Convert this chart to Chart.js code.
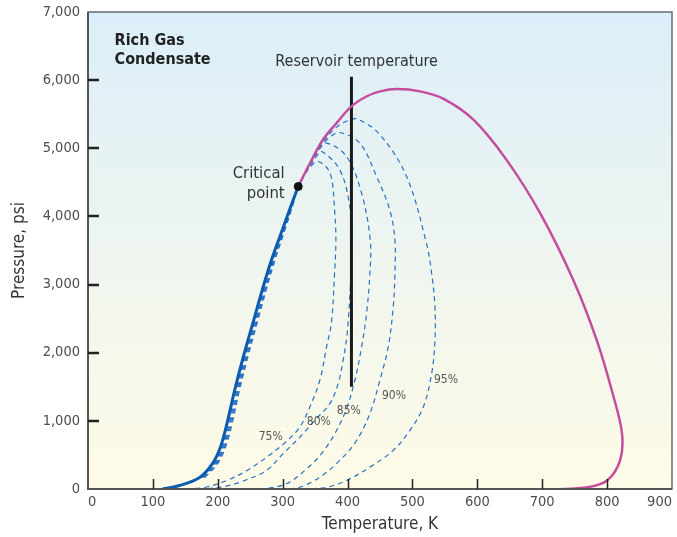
<!DOCTYPE html>
<html>
<head>
<meta charset="utf-8">
<script src="https://cdn.jsdelivr.net/npm/chart.js@4.4.1/dist/chart.umd.min.js"></script>
<style>
  html, body { margin: 0; padding: 0; background: #ffffff; }
  #wrap { width: 677px; height: 537px; }
</style>
</head>
<body>
<div id="wrap"><canvas id="phase" width="677" height="537"></canvas></div>
<script>
// Phase envelope of a rich gas condensate: temperature (K) vs pressure (psi)

// Bubble-point curve (solid blue), from low temperature up to the critical point
const bubbleT = [115, 141, 172, 192, 205, 215.3, 226, 240, 255.4, 268.5, 282.7, 299.4, 313.3, 324];
const bubbleP = [0, 51, 169, 375, 640, 1007, 1449, 1963, 2478, 2919, 3360, 3801, 4169, 4440];

// Dew-point curve (magenta), from the critical point round the cricondentherm to the axis
const dewT = [324, 342, 362, 383, 406, 429, 450, 476, 512, 548, 594, 645, 697, 748, 784, 810, 823, 820, 800, 769, 731];
const dewP = [4440, 4780, 5125, 5370, 5615, 5760, 5835, 5870, 5835, 5725, 5420, 4830, 4045, 3065, 2185, 1350, 810, 420, 125, 25, 0];

// Critical point
const criticalT = [324];
const criticalP = [4440];

// Reservoir temperature line
const reservoirT = [406, 406];
const reservoirP = [1500, 6050];

// Quality lines (dashed): up beside the bubble curve, over the top, down the right side
const q75T = [174, 194, 207, 217.3, 228, 242, 256.9, 270, 284.2, 300.4, 313.8, 324, 342, 355, 373, 380, 382, 380, 375, 367.6, 357.3, 341.8, 326.4, 306, 277, 245, 214, 183, 157];
const q75P = [169, 375, 640, 1007, 1449, 1963, 2478, 2919, 3360, 3801, 4169, 4440, 4720, 4806, 4635, 4096, 3654, 3165, 2429, 2085, 1596, 1203, 909, 701, 478, 272, 125, 29, 0];

const q80T = [175.5, 195.5, 208.5, 218.8, 229.5, 243, 258.4, 271, 285.2, 301.4, 314.3, 324, 342, 352, 360, 388, 403.5, 405.5, 405, 399.4, 393.2, 385.5, 372.7, 349.5, 326.4, 300.6, 275, 241.5, 210.6, 180];
const q80P = [169, 375, 640, 1007, 1449, 1963, 2478, 2919, 3360, 3801, 4169, 4440, 4740, 4880, 4953, 4684, 4144, 3654, 3115, 2282, 1890, 1547, 1253, 1007, 762, 518, 272, 125, 37, 0];

const q85T = [177, 197, 210, 220.3, 231, 244.5, 259.4, 272.5, 286.2, 302.4, 314.8, 324, 342, 355, 368, 398.5, 421.6, 435, 434.4, 429.3, 421.6, 411.3, 397.4, 380.4, 359.8, 334.1, 305.9, 272];
const q85P = [169, 375, 640, 1007, 1449, 1963, 2478, 2919, 3360, 3801, 4169, 4440, 4750, 4970, 5076, 4879, 4341, 3654, 3165, 2576, 2085, 1596, 1154, 812, 518, 272, 76, 0];

const q90T = [178.5, 198.5, 211.5, 221.8, 232, 246, 260.9, 273.5, 287.2, 302.9, 315.3, 324, 342, 362, 375, 388, 418.8, 444.8, 465, 473, 473, 470.4, 462.7, 449.8, 434.4, 413.9, 388, 357.3, 326.4, 300];
const q90P = [169, 375, 640, 1007, 1449, 1963, 2478, 2919, 3360, 3801, 4169, 4440, 4760, 5060, 5180, 5232, 5076, 4585, 4096, 3654, 3165, 2674, 2085, 1596, 1106, 713, 419, 174, 27, 0];

const q95T = [180, 200, 213, 223.3, 233.5, 247, 261.9, 274.5, 288.2, 303.4, 315.8, 324, 342, 362, 383, 400, 415, 450, 491, 521, 529.6, 534.7, 534.7, 529.6, 516.7, 496.1, 470.4, 434.4, 398.5, 367.6, 340];
const q95P = [169, 375, 640, 1007, 1449, 1963, 2478, 2919, 3360, 3801, 4169, 4440, 4770, 5090, 5310, 5405, 5430, 5199, 4585, 3630, 3165, 2674, 2184, 1694, 1203, 860, 566, 321, 125, 26, 0];

// Quality labels and where they sit (T, P)
const qualityLabels = ['75%', '80%', '85%', '90%', '95%'];
const qualityLabelT = [281.6, 355.7, 402, 471.5, 551.7];
const qualityLabelP = [772, 985, 1140, 1360, 1600];

// Axis ticks
const xTicks = [0, 100, 200, 300, 400, 500, 600, 700, 800, 900];
const yTicks = [0, 1000, 2000, 3000, 4000, 5000, 6000, 7000];

const FONT = "'DejaVu Sans Condensed', 'Liberation Sans Narrow', sans-serif";

function pts(xs, ys) { return xs.map((x, i) => ({ x: x, y: ys[i] })); }

const QUALITY_BLUE = '#2a70c2';
function qualityLine(xs, ys) {
  return {
    data: pts(xs, ys), showLine: true, borderColor: QUALITY_BLUE, borderWidth: 1.2,
    borderDash: [5, 4], pointRadius: 0, tension: 0.35, fill: false
  };
}

// Background gradient inside the plot area
const bgPlugin = {
  id: 'plotBackground',
  beforeDatasetsDraw(chart) {
    const { ctx, chartArea: a } = chart;
    const g = ctx.createLinearGradient(0, a.top, 0, a.bottom);
    g.addColorStop(0, '#dbeef9');
    g.addColorStop(0.5, '#eef5ef');
    g.addColorStop(1, '#fefbe6');
    ctx.save();
    ctx.fillStyle = g;
    ctx.fillRect(a.left, a.top, a.right - a.left, a.bottom - a.top);
    ctx.restore();
  }
};

// Frame, inside tick marks and text annotations
const decorPlugin = {
  id: 'decor',
  afterDatasetsDraw(chart) {
    const { ctx, chartArea: a, scales } = chart;
    const xs = scales.x, ys = scales.y;
    ctx.save();
    // frame
    ctx.strokeStyle = '#6a6a6a';
    ctx.lineWidth = 1.5;
    ctx.strokeRect(a.left, a.top, a.right - a.left, a.bottom - a.top);
    ctx.strokeStyle = '#555555';
    ctx.lineWidth = 2;
    ctx.beginPath();
    ctx.moveTo(a.left, a.top); ctx.lineTo(a.left, a.bottom); ctx.lineTo(a.right, a.bottom);
    ctx.stroke();
    // tick marks pointing into the plot
    ctx.strokeStyle = '#222222';
    ctx.lineWidth = 2.5;
    yTicks.slice(1, -1).forEach(v => {
      const py = Math.round(ys.getPixelForValue(v));
      ctx.beginPath(); ctx.moveTo(a.left, py); ctx.lineTo(a.left + 11, py); ctx.stroke();
    });
    ctx.lineWidth = 1.5;
    xTicks.slice(1, -1).forEach(v => {
      const px = Math.round(xs.getPixelForValue(v)) + 0.5;
      ctx.beginPath(); ctx.moveTo(px, a.bottom); ctx.lineTo(px, a.bottom - 10); ctx.stroke();
    });

    const at = (t, p) => [xs.getPixelForValue(t), ys.getPixelForValue(p)];
    ctx.textBaseline = 'middle';

    // title block
    ctx.fillStyle = '#222222';
    ctx.font = 'bold 16px ' + FONT;
    ctx.textAlign = 'left';
    let [x, y] = at(41, 6581); ctx.fillText('Rich Gas', x, y);
    [x, y] = at(41, 6301); ctx.fillText('Condensate', x, y);

    // reservoir temperature label
    ctx.fillStyle = '#333333';
    ctx.font = '16px ' + FONT;
    ctx.textAlign = 'center';
    [x, y] = at(414, 6272); ctx.fillText('Reservoir temperature', x, y);

    // critical point label
    ctx.font = '16.5px ' + FONT;
    ctx.textAlign = 'right';
    [x, y] = at(303, 4625); ctx.fillText('Critical', x, y);
    [x, y] = at(303, 4331); ctx.fillText('point', x, y);

    // quality labels
    ctx.fillStyle = '#555555';
    ctx.font = '12px ' + FONT;
    ctx.textAlign = 'center';
    qualityLabels.forEach((s, i) => {
      [x, y] = at(qualityLabelT[i], qualityLabelP[i]);
      ctx.fillText(s, x, y);
    });
    ctx.restore();
  }
};

new Chart(document.getElementById('phase'), {
  type: 'scatter',
  data: {
    datasets: [
      { data: pts(criticalT, criticalP), pointRadius: 4, pointBackgroundColor: '#111111', pointBorderColor: '#111111', showLine: false },
      { data: pts(dewT, dewP), showLine: true, borderColor: '#c54c9f', borderWidth: 2.5, pointRadius: 0, tension: 0.35 },
      { data: pts(reservoirT, reservoirP), showLine: true, borderColor: '#1a1a1a', borderWidth: 3, pointRadius: 0 },
      { data: pts(bubbleT, bubbleP), showLine: true, borderColor: '#0b5bb0', borderWidth: 3, pointRadius: 0, tension: 0.35 },
      qualityLine(q75T, q75P),
      qualityLine(q80T, q80P),
      qualityLine(q85T, q85P),
      qualityLine(q90T, q90P),
      qualityLine(q95T, q95P)
    ]
  },
  options: {
    responsive: false,
    devicePixelRatio: 1,
    animation: false,
    layout: { padding: { left: 0, top: 12, right: 5, bottom: 0 } },
    plugins: { legend: { display: false }, tooltip: { enabled: false } },
    scales: {
      x: {
        type: 'linear', min: 0, max: 900,
        afterBuildTicks(s) { s.ticks = xTicks.map(v => ({ value: v })); },
        afterFit(s) { s.height = 48; s.paddingLeft = 0; s.paddingRight = 0; },
        grid: { display: false, drawTicks: false },
        border: { display: false },
        ticks: { color: '#4d4d4d', padding: 5, align: 'inner', font: { family: FONT, size: 14.5 }, maxRotation: 0 },
        title: { display: true, text: 'Temperature, K', color: '#333333', font: { family: FONT, size: 17 }, padding: { top: 0, bottom: 2 } }
      },
      y: {
        type: 'linear', min: 0, max: 7000,
        afterBuildTicks(s) { s.ticks = yTicks.map(v => ({ value: v })); },
        afterFit(s) { s.width = 88; s.paddingTop = 0; s.paddingBottom = 0; },
        grid: { display: false, drawTicks: false },
        border: { display: false },
        ticks: { color: '#4d4d4d', padding: 8, font: { family: FONT, size: 14.5 },
                 callback: v => v.toLocaleString('en-US') },
        title: { display: true, text: 'Pressure, psi', color: '#333333', font: { family: FONT, size: 17 }, padding: { top: 9, bottom: 0 } }
      }
    }
  },
  plugins: [bgPlugin, decorPlugin]
});
</script>
</body>
</html>
